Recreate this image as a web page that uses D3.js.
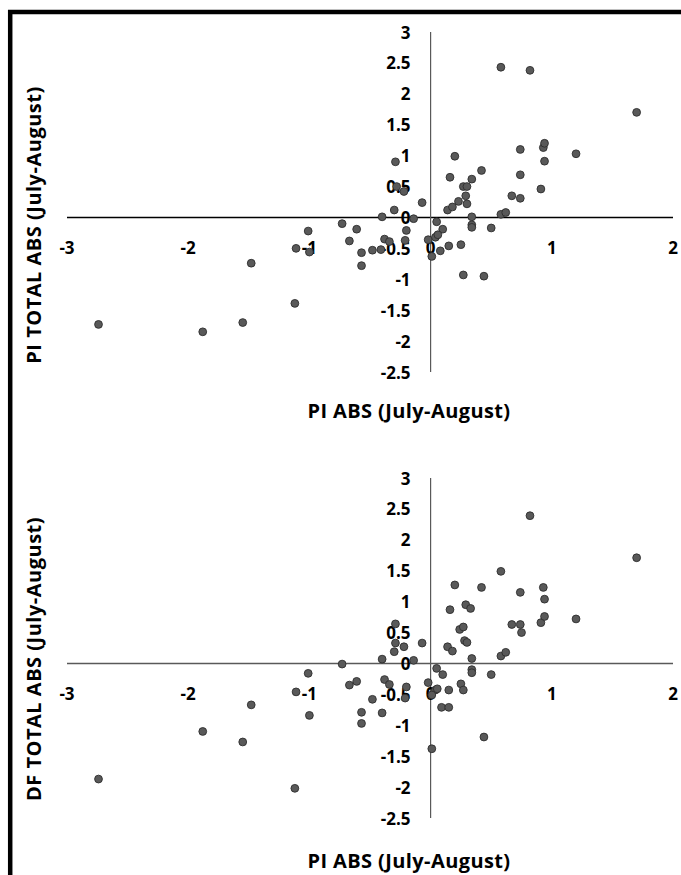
<!DOCTYPE html>
<html>
<head>
<meta charset="utf-8">
<script src="https://cdn.jsdelivr.net/npm/d3@7"></script>
<style>
html,body{margin:0;padding:0;background:#fff;}
svg{display:block;}
text{font-family:"Open Sans","Noto Sans",sans-serif;font-weight:700;fill:#000;}
</style>
</head>
<body>
<svg id="chart" width="681" height="875"></svg>
<script>
// ---- Data ----
const xTicks = [-3, -2, -1, 0, 1, 2];
const yTicks = [3, 2.5, 2, 1.5, 1, 0.5, 0, -0.5, -1, -1.5, -2, -2.5];
const xTitle = "PI ABS (July-August)";
const topYTitle = "PI TOTAL ABS (July-August)";
const bottomYTitle = "DF TOTAL ABS (July-August)";

// Top chart: PI ABS vs PI TOTAL ABS
const topX = [-2.74,-1.88,-1.55,-1.12,-1.48,-1.01,-1.11,-1.00,-0.73,-0.61,-0.67,-0.57,-0.57,-0.48,-0.41,-0.38,-0.34,-0.20,-0.21,-0.30,-0.40,-0.14,-0.07,-0.29,-0.28,-0.22,0.05,0.10,-0.02,0.04,0.06,0.01,0.08,0.15,0.25,0.34,0.34,0.34,0.50,0.58,0.62,0.27,0.44,0.14,0.18,0.23,0.30,0.29,0.27,0.30,0.34,0.16,0.42,0.20,0.67,0.74,0.91,0.74,0.94,0.74,0.93,0.94,1.20,1.70,0.58,0.82];
const topY = [-1.73,-1.85,-1.70,-1.39,-0.74,-0.22,-0.50,-0.56,-0.10,-0.19,-0.38,-0.57,-0.78,-0.53,-0.52,-0.35,-0.39,-0.21,-0.37,0.12,0.01,-0.02,0.24,0.90,0.50,0.42,-0.07,-0.19,-0.36,-0.32,-0.28,-0.63,-0.54,-0.46,-0.44,0.01,-0.12,-0.16,-0.17,0.05,0.08,-0.93,-0.95,0.12,0.17,0.26,0.22,0.35,0.50,0.50,0.62,0.65,0.76,0.99,0.35,0.31,0.46,0.69,0.91,1.10,1.13,1.20,1.03,1.70,2.43,2.38];

// Bottom chart: PI ABS vs DF TOTAL ABS
const botX = [-2.74,-1.88,-1.55,-1.12,-1.48,-1.01,-1.11,-1.00,-0.73,-0.61,-0.67,-0.57,-0.57,-0.48,-0.40,-0.38,-0.34,-0.20,-0.21,-0.30,-0.40,-0.14,-0.07,-0.29,-0.29,-0.22,0.05,0.10,-0.02,0.04,0.055,0.01,0.15,0.25,0.27,0.09,0.15,0.01,0.44,0.34,0.34,0.34,0.50,0.58,0.62,0.14,0.18,0.28,0.30,0.24,0.27,0.16,0.29,0.33,0.20,0.42,0.58,0.67,0.74,0.75,0.74,0.91,0.94,0.94,0.93,1.20,1.70,0.82];
const botY = [-1.87,-1.10,-1.27,-2.02,-0.67,-0.16,-0.46,-0.84,-0.01,-0.29,-0.35,-0.79,-0.97,-0.58,-0.80,-0.26,-0.34,-0.38,-0.56,0.19,0.07,0.05,0.33,0.64,0.33,0.27,-0.08,-0.18,-0.31,-0.43,-0.41,-0.51,-0.43,-0.33,-0.43,-0.71,-0.71,-1.38,-1.19,0.08,-0.10,-0.15,-0.18,0.12,0.18,0.27,0.20,0.37,0.34,0.55,0.59,0.87,0.95,0.89,1.27,1.23,1.49,0.63,0.63,0.50,1.15,0.66,0.76,1.04,1.23,0.72,1.71,2.39];

// ---- Drawing ----
const svg = d3.select("#chart");

// frame (top and left black borders)
svg.append("line").attr("x1", 8).attr("x2", 681).attr("y1", 12).attr("y2", 12)
  .attr("stroke", "#000").attr("stroke-width", 4.5);
svg.append("line").attr("x1", 10.2).attr("x2", 10.2).attr("y1", 10).attr("y2", 875)
  .attr("stroke", "#000").attr("stroke-width", 4.5);

const x = d3.scaleLinear().domain([-3, 2]).range([67, 673]);

function panel(xs, ys, yRange, yTitle, hColor, titleY, yTitleCenter) {
  const y = d3.scaleLinear().domain([-2.5, 3]).range(yRange);
  const g = svg.append("g");

  // horizontal axis line
  g.append("line")
    .attr("x1", x(-3)).attr("x2", x(2))
    .attr("y1", y(0)).attr("y2", y(0))
    .attr("stroke", hColor).attr("stroke-width", 1.5);
  // vertical axis line
  g.append("line")
    .attr("x1", x(0)).attr("x2", x(0))
    .attr("y1", y(3)).attr("y2", y(-2.5))
    .attr("stroke", "#595959").attr("stroke-width", 1.2);

  // x tick labels
  g.selectAll(".xt").data(xTicks).enter().append("text")
    .attr("x", d => x(d))
    .attr("y", y(0) + 30)
    .attr("text-anchor", "middle")
    .attr("dominant-baseline", "central")
    .style("font-size", "17px")
    .text(d => String(d));

  // y tick labels
  g.selectAll(".yt").data(yTicks).enter().append("text")
    .attr("x", x(0) - 20)
    .attr("y", d => y(d))
    .attr("text-anchor", "end")
    .attr("dominant-baseline", "central")
    .style("font-size", "17px")
    .text(d => String(d));

  // points
  g.selectAll("circle").data(xs.map((v, i) => [v, ys[i]])).enter().append("circle")
    .attr("cx", d => x(d[0]))
    .attr("cy", d => y(d[1]))
    .attr("r", 3.9)
    .attr("fill", "#595959")
    .attr("stroke", "#2e2e2e")
    .attr("stroke-width", 0.9);

  // x title
  g.append("text")
    .attr("x", 409).attr("y", titleY)
    .attr("text-anchor", "middle")
    .attr("dominant-baseline", "central")
    .style("font-size", "20px")
    .style("letter-spacing", "0.4px")
    .text(xTitle);

  // y title
  g.append("text")
    .attr("transform", `translate(33,${yTitleCenter}) rotate(-90)`)
    .attr("text-anchor", "middle")
    .attr("dominant-baseline", "central")
    .style("font-size", "20px")
    .style("letter-spacing", "0.5px")
    .text(yTitle);
}

panel(topX, topY, [372, 32], topYTitle, "#000", 410, 225);
panel(botX, botY, [818, 478], bottomYTitle, "#595959", 860, 659);
</script>
</body>
</html>
